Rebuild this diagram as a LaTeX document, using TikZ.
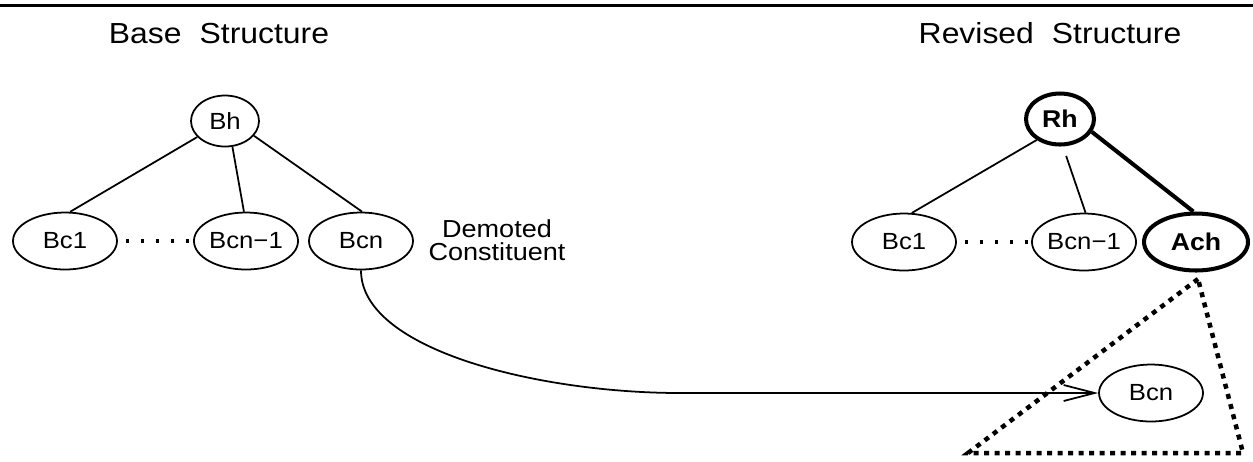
\documentclass[tikz,border=0pt]{standalone}
\usepackage{fontspec}
\setmainfont{Liberation Sans}[FakeStretch=1.1]
\usetikzlibrary{arrows.meta, shapes.geometric}

\begin{document}
\begin{tikzpicture}[
    x=0.02cm, y=-0.02cm,
    cons/.style={draw, ellipse, line width=1pt, minimum width=2.08cm,
                 minimum height=1.14cm, inner sep=0pt,
                 font=\fontsize{13.3}{15}\selectfont},
    head/.style={cons, minimum width=1.36cm, minimum height=1.02cm},
    hot/.style={line width=2.3pt, font=\fontsize{13.8}{15}\selectfont\bfseries},
    edge/.style={line width=1pt},
    dots/.style={line width=0.07cm, dash pattern=on 0.07cm off 0.23cm},
    tri/.style={line width=0.09cm, dash pattern=on 0.1cm off 0.11cm},
    ttl/.style={anchor=base, font=\fontsize{16.5}{19}\selectfont},
    >={Straight Barb[length=0.62cm, width=0.32cm]},
]
\useasboundingbox (0,0) rectangle (1253,461);
\draw[line width=0.06cm] (0,5) -- (1253,5);
% --- base structure ---------------------------------------------------------
\node[ttl] (bt) at (219,43) {Base\hspace{0.36cm}Structure};
\node[head] (bh) at (225,121) {Bh};
\node[cons] (b1) at (65,241) {Bc1};
\node[cons] (bm) at (246,241) {Bcn−1};
\node[cons] (bn) at (361,241) {Bcn};
\node[align=center, font=\fontsize{14}{13.2}\selectfont] (dem) at (497,240)
  {Demoted\\Constituent};
\draw[edge] (bh.210) -- (b1.80);
\draw[edge] (bh.286) -- (bm.94);
\draw[edge] (bh.333) -- (bn.88);
\draw[dots, shorten <=0.16cm] (b1) -- (bm);
% --- revised structure ------------------------------------------------------
\node[ttl] (rt) at (1050,43) {Revised\hspace{0.36cm}Structure};
\node[head, hot] (rh) at (1060,119) {Rh};
\node[cons] (r1) at (904,242) {Bc1};
\node[cons] (rm) at (1084,242) {Bcn−1};
\node[cons, hot] (ach) at (1196,242) {Ach};
\node[cons] (mv) at (1151,393) {Bcn};
\draw[edge] (rh.222) -- (r1.75);
\draw[edge, shorten <=0.2cm] (rh.276) -- (rm.87);
\draw[hot] (rh.338) -- (ach.95);
\draw[dots, shorten <=0.16cm] (r1) -- (rm);
% --- attachment subtree -----------------------------------------------------
\coordinate (apex) at (1198,279);
\coordinate (tl) at (968,453);
\coordinate (tr) at (1243,453);
\draw[tri] (apex) -- (tl) -- (tr) -- cycle;
\coordinate (bend) at (680,393);
\draw[edge, ->] (bn.south) .. controls +(0,80) and +(-140,0) .. (bend) -- (mv.west);
\end{tikzpicture}
\end{document}
